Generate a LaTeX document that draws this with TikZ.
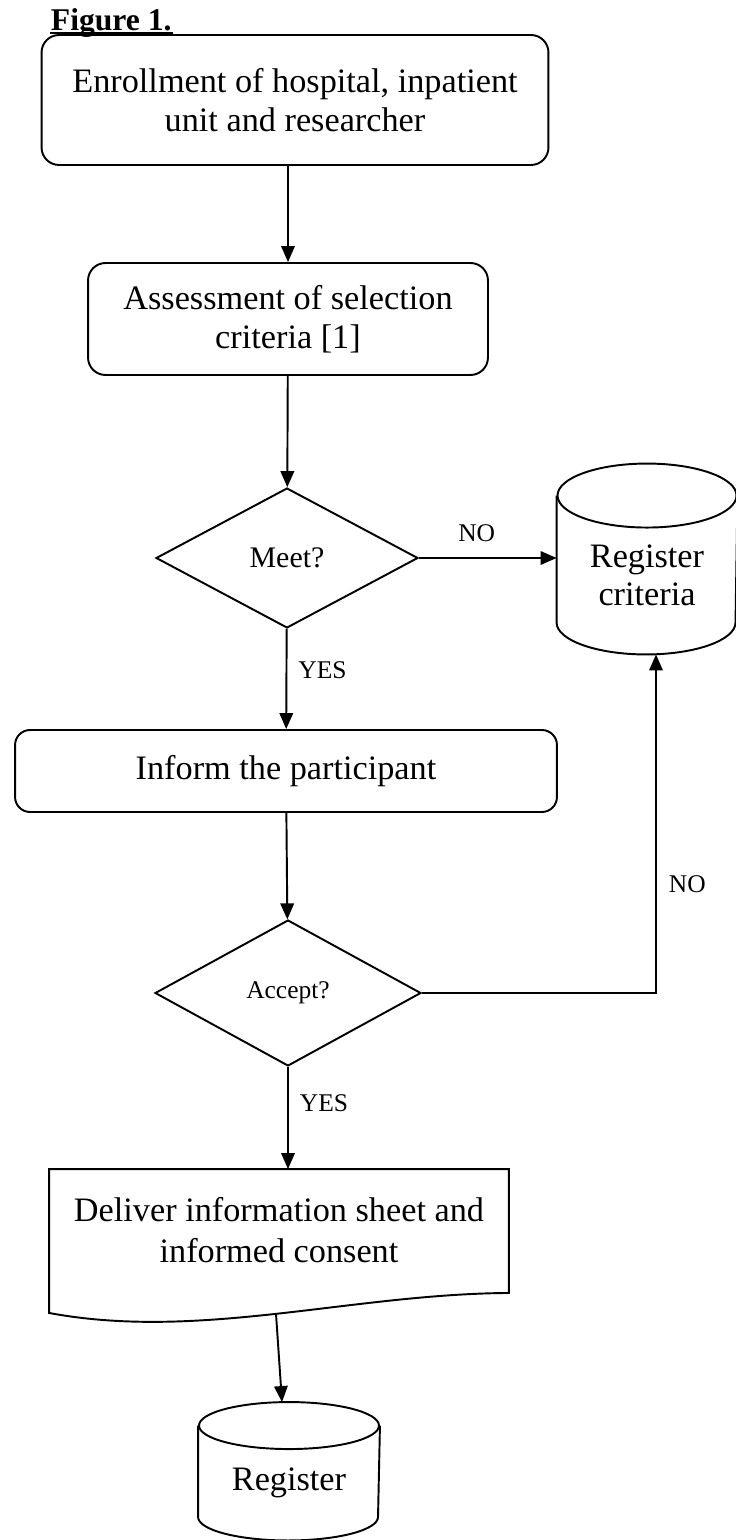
\documentclass[tikz,border=0pt]{standalone}
\usepackage{fontspec}
\setmainfont{Liberation Serif}
\usetikzlibrary{shapes.geometric,arrows.meta}

\tikzset{
  box/.style={draw, rounded corners=0.35cm, align=center, inner sep=0, font=\fontsize{19.5}{22}\selectfont},
  decision/.style={draw, diamond, inner sep=0},
  store/.style={inner sep=0, align=center, font=\fontsize{19.5}{21.5}\selectfont},
  doc/.style={inner sep=0, align=center, font=\fontsize{19.5}{23.5}\selectfont},
  arr/.style={-{Triangle[length=0.32cm,width=0.27cm]}},
  lbl/.style={inner sep=0, font=\fontsize{14.5}{16}\selectfont}
}

% cylinder round a body node: name, x radius, y radius
\newcommand\dbcyl[3]{%
  \draw (#1.north west) -- ([yshift=#3]#1.south west)
    arc[start angle=180, end angle=360, x radius=#2, y radius=#3]
    -- (#1.north east);
  \draw (#1.north) ellipse[x radius=#2, y radius=#3];
}

\begin{document}
\begin{tikzpicture}[x=0.02cm, y=-0.02cm, line width=1.1pt]
	\useasboundingbox (0,0) rectangle (736,1540);
	\node[anchor=base west, inner sep=0, font=\bfseries\fontsize{18}{20}\selectfont] (fig) at (50,31) {Figure 1.};
	\draw[line width=0.9pt] ([yshift=-1.2pt]fig.base west) -- ([yshift=-1.2pt]fig.base east);

	\node[box, minimum width=10.14cm, minimum height=2.6cm] (enroll) at (295,100) {Enrollment of hospital, inpatient\\unit and researcher};
	\node[box, minimum width=8cm, minimum height=2.24cm] (assess) at (288,319) {Assessment of selection\\criteria [1]};
	\node[decision, minimum width=5.24cm, minimum height=2.8cm, font=\fontsize{17}{19}\selectfont] (meet) at (287,558) {Meet?};
	\node[store, minimum width=3.58cm, minimum height=3.14cm] (crit) at (647,575) {Register\\criteria};
	\node[box, rounded corners=0.3cm, minimum width=10.84cm, minimum height=1.64cm] (inform) at (286,771) {Inform the participant};
	\node[decision, minimum width=5.32cm, minimum height=2.92cm, font=\fontsize{14.5}{16}\selectfont] (accept) at (288,993) {Accept?};
	\node[doc, minimum width=9.16cm, minimum height=2.4cm] (deliver) at (279,1230) {Deliver information sheet and\\informed consent};
	\node[store, minimum width=3.6cm, minimum height=2.26cm] (reg) at (289,1483) {Register};

	\dbcyl{crit}{1.79cm}{0.64cm}
	\dbcyl{reg}{1.8cm}{0.47cm}
	\draw (deliver.north west) -- ([yshift=-0.44cm]deliver.south west)
		.. controls +(150,28) and +(-158,1) .. ([yshift=-0.04cm]deliver.south east) coordinate[pos=0.5] (wave)
		-- (deliver.north east) -- cycle;

	\draw[arr] (enroll.south -| assess) -- (assess);
	\draw[arr] (assess) -- (meet);
	\draw[arr] (meet) -- (meet -| crit.west) node[lbl, pos=0.42, above=0.3cm] (no1) {NO};
	\draw[arr] (meet) -- (inform) node[lbl, pos=0.41, right=0.22cm] (yes1) {YES};
	\draw[arr] (inform) -- (accept);
	\draw[arr] (accept) -| ([xshift=0.18cm]crit.south) node[lbl, pos=0.66, right=0.24cm] (no2) {NO};
	\draw[arr] (accept) -- (accept |- deliver.north) node[lbl, pos=0.35, right=0.22cm] (yes2) {YES};
	\draw[arr] (wave) -- ([xshift=-0.14cm, yshift=0.47cm]reg.north);
\end{tikzpicture}
\end{document}
